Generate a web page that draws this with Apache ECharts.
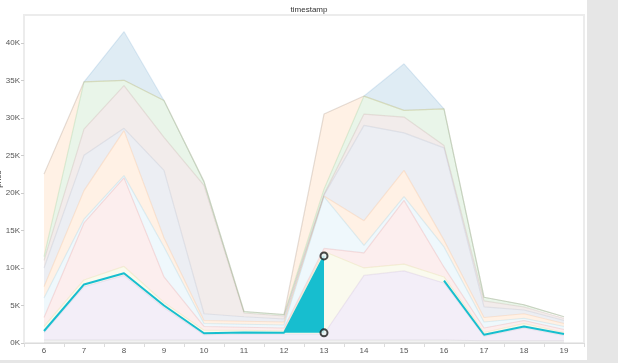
<!DOCTYPE html>
<html>
<head>
<meta charset="utf-8">
<script src="https://cdn.jsdelivr.net/npm/echarts@6/dist/echarts.min.js"></script>
<style>
html,body{margin:0;padding:0;background:#fff;}
#c{width:618px;height:363px;}
</style>
</head>
<body>
<div id="c"></div>
<script>
const categories = ['6','7','8','9','10','11','12','13','14','15','16','17','18','19'];
const yTickInterval = 5000;

// stacked layers, bottom to top
const grayBase  = [400,400,400,400,400,400,400,400,400,400,400,300,300,300];
const purple    = [1000,7100,8600,4300,700,800,800,800,8600,9200,7600,600,1700,700];
const olive     = [800,900,1200,700,600,500,400,11000,1000,900,800,500,600,400];
const red       = [1200,7600,11800,3400,500,400,400,400,2000,8500,1300,600,400,400];
const lightBlue = [2600,500,300,4000,400,400,400,6900,1000,500,2700,800,300,400];
const orange    = [1500,3800,6000,1200,400,400,400,100,3300,3500,900,600,600,400];
const slate     = [2500,4700,300,9000,900,600,400,100,12700,5000,12300,1400,500,400];
const brown     = [1000,3500,5700,4400,17100,500,400,100,1500,2100,300,800,400,300];
const green     = [500,6300,700,4900,500,200,200,700,2400,900,4900,500,300,200];
const orangeTop = [11000,0,0,0,0,0,0,10000,0,0,0,0,0,0];
const blueTop   = [0,0,6500,0,0,0,0,0,0,6200,0,0,0,0];

// highlighted series
const highlightLine = [1600,7800,9300,5000,1300,1400,1350,11600,null,null,8300,1100,2200,1200];
const highlightBase = [null,null,null,null,null,null,1350,1350,null,null,null,null,null,null];
const highlightBand = [null,null,null,null,null,null,0,10250,null,null,null,null,null,null];
const hoverPoints = [['13',11600],['13',1350]];

const layers = [
  [grayBase,'#7f7f7f',0.10],
  [purple,'#9467bd',0.11],
  [olive,'#bcbd22',0.08],
  [red,'#d62728',0.08],
  [lightBlue,'#1f9fd0',0.07],
  [orange,'#ff7f0e',0.11],
  [slate,'#6f7f9f',0.13],
  [brown,'#8c564b',0.11],
  [green,'#2ca02c',0.10],
  [orangeTop,'#ff7f0e',0.11],
  [blueTop,'#1f77b4',0.14]
];

const series = layers.map(function(l, i){
  return {
    type:'line', stack:'total', data:l[0], symbol:'none', silent:true, z:2,
    lineStyle:{color:l[1], width:1.2, opacity:0.12},
    areaStyle:{color:l[1], opacity:l[2]},
    itemStyle:{color:l[1]}
  };
});

series.push({
  type:'line', stack:'hl', data:highlightBase, symbol:'none', z:5,
  lineStyle:{width:0, opacity:0}
});
series.push({
  type:'line', stack:'hl', data:highlightBand, symbol:'none', z:5,
  lineStyle:{width:0, opacity:0},
  areaStyle:{color:'#17becf', opacity:1}
});
series.push({
  type:'line', data:highlightLine, symbol:'none', z:6, connectNulls:false,
  lineStyle:{color:'#17becf', width:2}
});
series.push({
  type:'scatter', data:hoverPoints, symbol:'circle', symbolSize:7, z:7,
  itemStyle:{color:'#e8f4f4', borderColor:'#1a1a1a', borderWidth:2}
});

const chart = echarts.init(document.getElementById('c'), null, {renderer:'canvas'});
chart.setOption({
  animation:false,
  backgroundColor:'#ffffff',
  title:{
    text:'timestamp', left:304, top:1, textAlign:'center',
    textStyle:{fontSize:8, fontWeight:'normal', color:'#333', fontFamily:'Arial, Liberation Sans, sans-serif'}
  },
  grid:{left:24, right:34, top:15, bottom:20, containLabel:false, outerBoundsMode:'none',
        show:true, borderColor:'#ececec', borderWidth:2, backgroundColor:'transparent'},
  xAxis:{
    type:'category', data:categories, boundaryGap:true,
    axisLine:{show:true, lineStyle:{color:'#dcdcdc', width:1}},
    axisTick:{show:true, length:4, lineStyle:{color:'#dcdcdc'}},
    axisLabel:{fontSize:8, color:'#555', margin:4, fontFamily:'Arial, Liberation Sans, sans-serif'},
    splitLine:{show:false}
  },
  yAxis:{
    type:'value', min:0, max:43700, interval:yTickInterval,
    name:'price', nameLocation:'middle', nameGap:21, nameRotate:90, nameMoveOverlap:false,
    nameTextStyle:{fontSize:8, color:'#333', fontFamily:'Arial, Liberation Sans, sans-serif'},
    axisLine:{show:false},
    axisTick:{show:true, length:3, lineStyle:{color:'#cccccc'}},
    axisLabel:{fontSize:8, color:'#555', margin:4, showMaxLabel:false,
      fontFamily:'Arial, Liberation Sans, sans-serif',
      formatter:function(v){return (v/1000)+'K';}},
    splitLine:{show:false}
  },
  graphic:[
    {type:'rect', left:587, top:0, shape:{width:31, height:363}, style:{fill:'#e6e6e6'}, z:100},
    {type:'rect', left:0, top:360, shape:{width:618, height:3}, style:{fill:'#e6e6e6'}, z:100}
  ],
  series:series
});
</script>
</body>
</html>
